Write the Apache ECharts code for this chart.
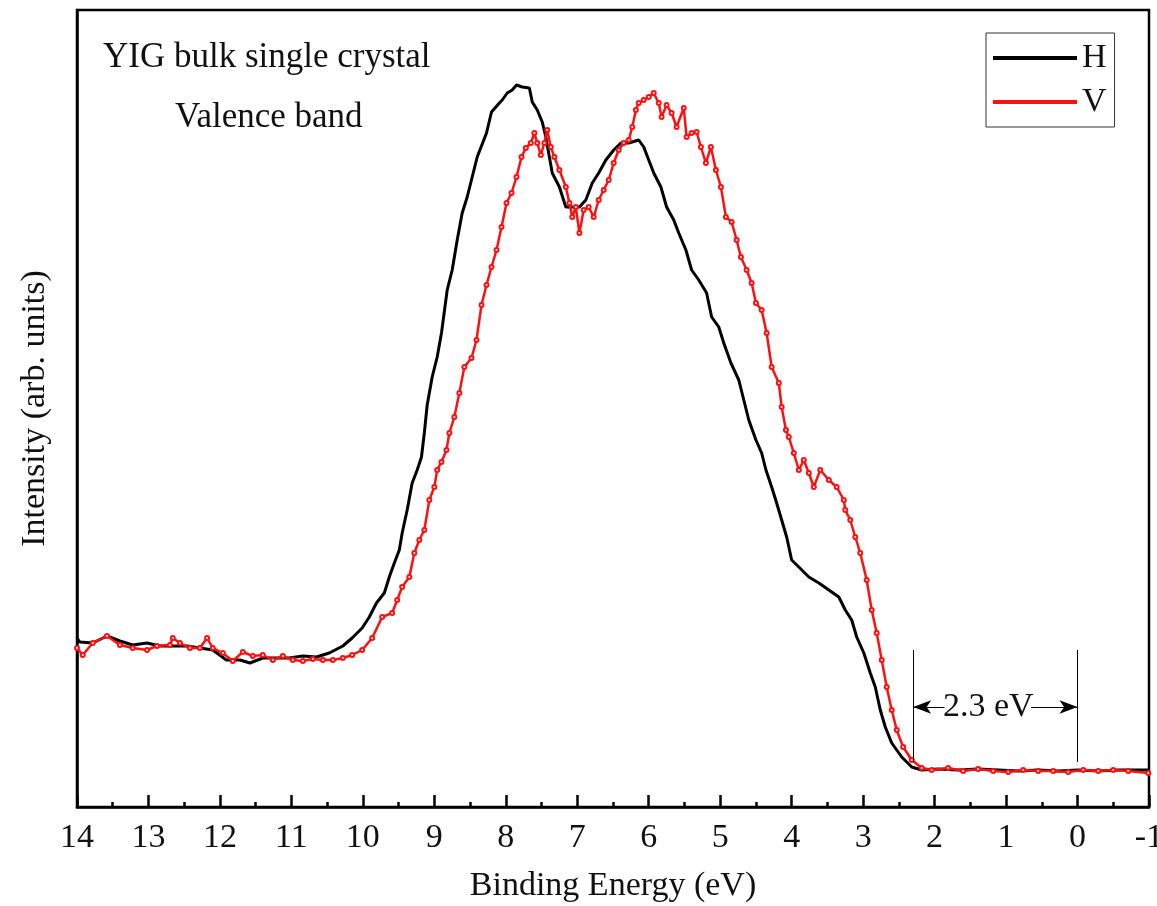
<!DOCTYPE html>
<html>
<head>
<meta charset="utf-8">
<script src="https://cdn.jsdelivr.net/npm/echarts@6/dist/echarts.min.js"></script>
<style>html,body{margin:0;padding:0;background:#fff}#c{width:1157px;height:906px}</style>
</head>
<body>
<div id="c"></div>
<script>
const energyTicks = [14,13,12,11,10,9,8,7,6,5,4,3,2,1,0,-1];
const hEnergy = [14.00,13.96,13.78,13.58,13.40,13.22,13.02,12.84,12.66,12.46,12.28,12.10,11.91,11.72,11.58,11.40,11.21,11.03,10.84,10.65,10.47,10.28,10.15,10.01,9.91,9.81,9.70,9.63,9.56,9.49,9.45,9.38,9.31,9.24,9.18,9.14,9.10,9.03,8.96,8.90,8.82,8.75,8.68,8.61,8.54,8.47,8.40,8.27,8.20,8.09,8.05,7.98,7.91,7.85,7.77,7.67,7.63,7.56,7.49,7.44,7.39,7.35,7.25,7.16,7.07,6.97,6.88,6.79,6.70,6.60,6.49,6.39,6.28,6.14,6.07,6.00,5.93,5.83,5.75,5.65,5.58,5.48,5.40,5.30,5.19,5.12,5.02,4.95,4.85,4.74,4.67,4.60,4.50,4.42,4.36,4.28,4.21,4.14,4.07,4.00,3.90,3.76,3.62,3.48,3.34,3.25,3.16,3.09,2.99,2.90,2.83,2.76,2.69,2.60,2.46,2.32,2.18,1.95,1.67,1.39,1.11,0.83,0.55,0.27,-0.01,-0.29,-0.57,-0.99];
const hIntensity = [169,165,164,171,166,162,164,161,161,161,159,157,147,147,144,149,149,149,151,150,154,161,169,179,190,204,214,230,244,257,274,297,324,337,350,374,402,430,450,474,517,537,567,594,610,630,650,674,695,704,707,714,717,722,720,719,705,697,685,670,650,634,620,600,600,600,607,624,634,647,657,664,664,667,660,647,634,620,600,587,574,557,537,527,514,490,480,464,444,427,407,387,367,354,337,320,304,287,270,247,240,230,224,217,210,197,187,170,154,134,120,97,80,64,50,40,37,38,37,38,37,36,37,36,37,36,37,37];
const vEnergy = [14.00,13.92,13.78,13.58,13.40,13.22,13.02,12.88,12.70,12.66,12.56,12.42,12.28,12.18,12.10,11.96,11.82,11.68,11.54,11.40,11.26,11.12,10.98,10.84,10.70,10.56,10.42,10.28,10.15,10.01,9.87,9.73,9.59,9.52,9.45,9.35,9.28,9.21,9.14,9.07,9.00,8.96,8.90,8.83,8.79,8.72,8.65,8.58,8.48,8.41,8.34,8.27,8.20,8.13,8.06,7.99,7.92,7.85,7.78,7.72,7.65,7.60,7.56,7.51,7.46,7.42,7.37,7.32,7.25,7.16,7.11,7.07,7.02,6.97,6.91,6.84,6.77,6.70,6.63,6.56,6.49,6.42,6.35,6.28,6.23,6.18,6.14,6.07,6.00,5.93,5.86,5.82,5.75,5.68,5.61,5.51,5.47,5.40,5.33,5.27,5.20,5.13,5.06,4.99,4.92,4.84,4.77,4.71,4.63,4.56,4.50,4.42,4.35,4.28,4.18,4.14,4.08,4.04,3.97,3.90,3.83,3.76,3.69,3.60,3.48,3.37,3.27,3.25,3.18,3.11,3.04,2.95,2.88,2.81,2.74,2.67,2.60,2.53,2.44,2.32,2.18,2.04,1.81,1.60,1.39,1.18,0.97,0.76,0.55,0.34,0.13,-0.08,-0.29,-0.50,-0.71,-0.99];
const vIntensity = [159,152,164,171,162,159,157,161,162,169,164,159,159,169,159,154,146,155,151,152,147,151,147,146,148,147,147,149,152,157,169,190,194,207,220,230,254,267,277,307,320,337,345,357,374,390,414,440,449,467,502,522,540,557,580,604,614,630,650,659,664,674,664,652,664,677,660,650,637,620,604,590,600,574,597,600,590,607,617,627,644,657,664,667,680,697,704,707,710,714,704,690,702,694,680,699,670,674,675,660,644,660,637,620,590,585,567,550,537,524,504,497,474,440,424,400,377,370,354,337,347,334,320,337,327,320,307,297,287,270,254,227,197,174,147,120,97,77,60,47,39,37,39,36,38,36,35,37,36,36,35,37,36,37,36,34];
const gapEdges = [2.3, 0];
const gapLabel = '2.3 eV';

const FONT = '"Liberation Serif","Times New Roman",serif';
const zip = (a, b) => a.map((x, i) => [x, b[i]]);

const chart = echarts.init(document.getElementById('c'));
chart.setOption({
  animation: false,
  backgroundColor: '#fff',
  grid: { left: 77, right: 8, top: 10, bottom: 99, show: true, borderColor: '#000', borderWidth: 2.5,
          containLabel: false, outerBoundsMode: 'none' },
  graphic: [
    { type: 'text', left: 103, top: 40, style: { text: 'YIG bulk single crystal', font: '35px ' + FONT, fill: '#111' } },
    { type: 'text', left: 175, top: 100, style: { text: 'Valence band', font: '35px ' + FONT, fill: '#111' } }
  ],
  legend: {
    data: [{ name: 'H', icon: 'rect' }, { name: 'V', icon: 'rect' }],
    orient: 'vertical', left: 986, top: 33,
    borderColor: '#333', borderWidth: 1, borderRadius: 0, padding: [8, 8, 8, 7],
    itemWidth: 84, itemHeight: 4, itemGap: 10,
    textStyle: { fontFamily: FONT, fontSize: 34, color: '#111' }
  },
  xAxis: {
    type: 'value', inverse: true, min: -1, max: 14, interval: 1,
    name: 'Binding Energy (eV)', nameLocation: 'middle', nameGap: 62,
    nameTextStyle: { fontFamily: FONT, fontSize: 34, color: '#111' },
    axisLine: { show: true, onZero: false, lineStyle: { color: '#000', width: 2.5 } },
    axisTick: { show: true, inside: true, length: 12, lineStyle: { color: '#000', width: 2.5 } },
    minorTick: { show: true, splitNumber: 2, length: 5, lineStyle: { color: '#000', width: 2.5 } },
    axisLabel: { fontFamily: FONT, fontSize: 34, color: '#111', margin: 14,
      formatter: v => energyTicks.includes(v) ? String(v) : '' },
    splitLine: { show: false }
  },
  yAxis: {
    type: 'value', min: 0, max: 797,
    name: 'Intensity (arb. units)', nameLocation: 'middle', nameGap: 25,
    nameTextStyle: { fontFamily: FONT, fontSize: 34, color: '#111' },
    axisLine: { show: true, onZero: false, lineStyle: { color: '#000', width: 2.5 } },
    axisTick: { show: false }, axisLabel: { show: false }, splitLine: { show: false }
  },
  series: [
    {
      name: 'H', type: 'line', data: zip(hEnergy, hIntensity), symbol: 'none',
      lineStyle: { color: '#000', width: 3 }, itemStyle: { color: '#000' }, z: 3
    },
    {
      name: 'V', type: 'line', data: zip(vEnergy, vIntensity), symbol: 'emptyCircle', symbolSize: 4,
      showAllSymbol: true,
      lineStyle: { color: '#ff1010', width: 2.5 }, itemStyle: { color: '#ff1010', borderWidth: 1 }, z: 4
    },
    {
      name: 'anno', type: 'line', data: [], silent: true,
      markLine: {
        silent: true, animation: false, symbol: 'none', symbolSize: [10, 18],
        label: { show: false },
        lineStyle: { color: '#000', width: 1, type: 'solid' },
        data: [
          [{ coord: [gapEdges[0], 45] }, { coord: [gapEdges[0], 157] }],
          [{ coord: [gapEdges[1], 45] }, { coord: [gapEdges[1], 157] }],
          [{ coord: [1.86, 100], symbol: 'none' }, { coord: [gapEdges[0], 100], symbol: 'arrow' }],
          [{ coord: [0.65, 100], symbol: 'none' }, { coord: [gapEdges[1], 100], symbol: 'arrow' }]
        ]
      },
      markPoint: {
        silent: true, animation: false,
        data: [{ coord: [1.25, 100], symbol: 'rect', symbolSize: 1, itemStyle: { color: 'rgba(0,0,0,0)' },
          label: { show: true, position: 'inside', formatter: gapLabel, fontFamily: FONT, fontSize: 34, color: '#111' } }]
      }
    }
  ]
});
</script>
</body>
</html>
